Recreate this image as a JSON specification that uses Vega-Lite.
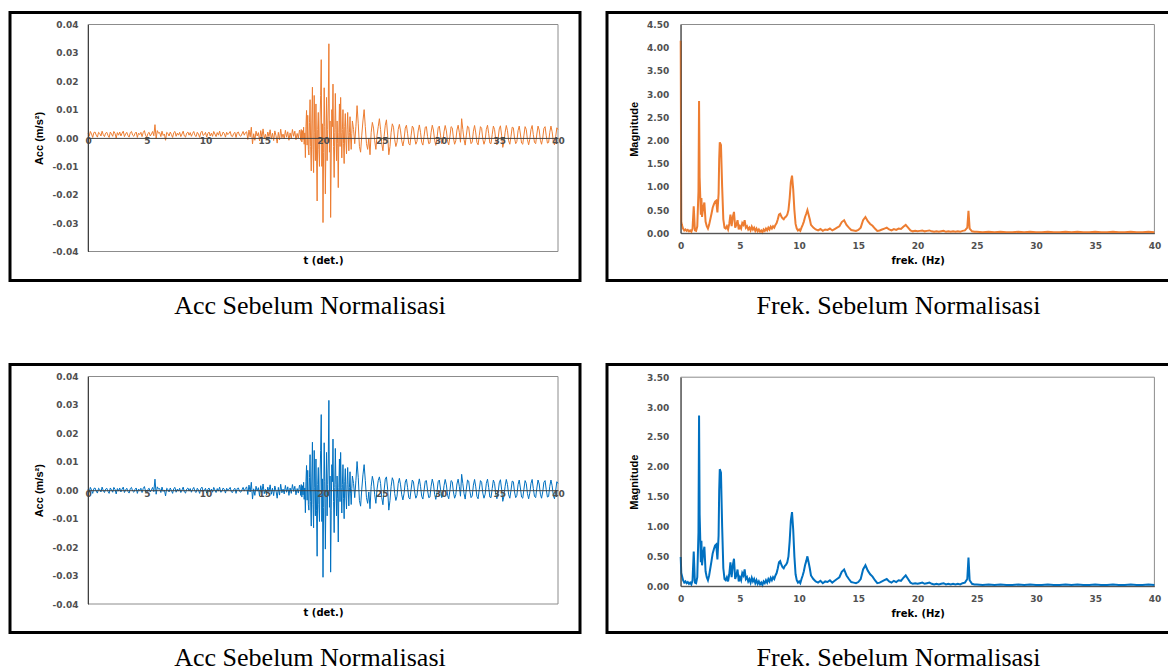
{
"$schema": "https://vega.github.io/schema/vega-lite/v6.json",
"background": "white",
"padding": {"left": 8, "top": 10.5, "right": 0, "bottom": 0},
"config": {"view": {"stroke": "black", "strokeWidth": 3}},
"datasets": {
"sig": [
{"t":0,"o":0.0017,"b":0.0004},{"t":0.1,"o":0.0006,"b":-0.0007},{"t":0.2,"o":0.0023,"b":0.0010},{"t":0.3,"o":0.0014,"b":0.0001},{"t":0.4,"o":0.0002,"b":-0.0011},{"t":0.5,"o":0.0019,"b":0.0006},{"t":0.6,"o":0.0021,"b":0.0008},{"t":0.7,"o":0.0010,"b":-0.0003},{"t":0.8,"o":0.0003,"b":-0.0010},{"t":0.9,"o":0.0020,"b":0.0007},
{"t":1.0,"o":0.0016,"b":0.0003},{"t":1.1,"o":0.0007,"b":-0.0006},{"t":1.2,"o":0.0024,"b":0.0011},{"t":1.3,"o":0.0012,"b":-0.0001},{"t":1.4,"o":0.0005,"b":-0.0008},{"t":1.5,"o":0.0017,"b":0.0004},{"t":1.6,"o":0.0020,"b":0.0007},{"t":1.7,"o":0.0009,"b":-0.0004},{"t":1.8,"o":0.0002,"b":-0.0011},{"t":1.9,"o":0.0021,"b":0.0008},
{"t":2.0,"o":0.0014,"b":0.0001},{"t":2.1,"o":0.0006,"b":-0.0007},{"t":2.2,"o":0.0023,"b":0.0010},{"t":2.3,"o":0.0016,"b":0.0003},{"t":2.4,"o":0.0000,"b":-0.0013},{"t":2.5,"o":0.0019,"b":0.0006},{"t":2.6,"o":0.0010,"b":-0.0003},{"t":2.7,"o":0.0021,"b":0.0008},{"t":2.8,"o":0.0007,"b":-0.0006},{"t":2.9,"o":0.0017,"b":0.0004},
{"t":3.0,"o":0.0024,"b":0.0011},{"t":3.1,"o":0.0005,"b":-0.0008},{"t":3.2,"o":0.0014,"b":0.0001},{"t":3.3,"o":0.0020,"b":0.0007},{"t":3.4,"o":0.0009,"b":-0.0004},{"t":3.5,"o":0.0003,"b":-0.0010},{"t":3.6,"o":0.0019,"b":0.0006},{"t":3.7,"o":0.0023,"b":0.0010},{"t":3.8,"o":0.0010,"b":-0.0003},{"t":3.9,"o":0.0006,"b":-0.0007},
{"t":4.0,"o":0.0016,"b":0.0003},{"t":4.1,"o":0.0021,"b":0.0008},{"t":4.2,"o":0.0002,"b":-0.0011},{"t":4.3,"o":0.0017,"b":0.0004},{"t":4.4,"o":0.0012,"b":-0.0001},{"t":4.5,"o":0.0020,"b":0.0007},{"t":4.6,"o":0.0005,"b":-0.0008},{"t":4.7,"o":0.0019,"b":0.0006},{"t":4.8,"o":0.0026,"b":0.0013},{"t":4.9,"o":0.0009,"b":-0.0004},
{"t":5.0,"o":0.0003,"b":-0.0010},{"t":5.1,"o":0.0016,"b":0.0003},{"t":5.2,"o":0.0020,"b":0.0007},{"t":5.3,"o":0.0007,"b":-0.0006},{"t":5.4,"o":0.0014,"b":0.0001},{"t":5.5,"o":0.0023,"b":0.0010},{"t":5.6,"o":0.0008,"b":-0.0005},{"t":5.7,"o":0.0047,"b":0.0039},{"t":5.8,"o":-0.0002,"b":-0.0014},{"t":5.9,"o":0.0026,"b":0.0012},
{"t":6.0,"o":0.0017,"b":0.0004},{"t":6.1,"o":0.0019,"b":0.0006},{"t":6.2,"o":0.0005,"b":-0.0008},{"t":6.3,"o":0.0024,"b":0.0011},{"t":6.4,"o":0.0009,"b":-0.0004},{"t":6.5,"o":0.0014,"b":0.0001},{"t":6.6,"o":-0.0008,"b":-0.0020},{"t":6.7,"o":0.0020,"b":0.0007},{"t":6.8,"o":0.0016,"b":0.0003},{"t":6.9,"o":0.0007,"b":-0.0006},
{"t":7.0,"o":0.0021,"b":0.0008},{"t":7.1,"o":0.0012,"b":-0.0001},{"t":7.2,"o":0.0002,"b":-0.0011},{"t":7.3,"o":0.0019,"b":0.0006},{"t":7.4,"o":0.0023,"b":0.0010},{"t":7.5,"o":0.0006,"b":-0.0007},{"t":7.6,"o":0.0017,"b":0.0004},{"t":7.7,"o":0.0010,"b":-0.0003},{"t":7.8,"o":0.0020,"b":0.0007},{"t":7.9,"o":0.0005,"b":-0.0008},
{"t":8.0,"o":0.0014,"b":0.0001},{"t":8.1,"o":0.0024,"b":0.0011},{"t":8.2,"o":0.0007,"b":-0.0006},{"t":8.3,"o":0.0003,"b":-0.0010},{"t":8.4,"o":0.0017,"b":0.0004},{"t":8.5,"o":0.0021,"b":0.0008},{"t":8.6,"o":0.0010,"b":-0.0003},{"t":8.7,"o":0.0019,"b":0.0006},{"t":8.8,"o":0.0006,"b":-0.0007},{"t":8.9,"o":0.0016,"b":0.0003},
{"t":9.0,"o":0.0023,"b":0.0010},{"t":9.1,"o":0.0009,"b":-0.0004},{"t":9.2,"o":0.0005,"b":-0.0008},{"t":9.3,"o":0.0020,"b":0.0007},{"t":9.4,"o":0.0014,"b":0.0001},{"t":9.5,"o":0.0002,"b":-0.0011},{"t":9.6,"o":0.0019,"b":0.0006},{"t":9.7,"o":0.0024,"b":0.0011},{"t":9.8,"o":0.0009,"b":-0.0004},{"t":9.9,"o":0.0012,"b":-0.0001},
{"t":10.0,"o":0.0020,"b":0.0007},{"t":10.1,"o":0.0003,"b":-0.0010},{"t":10.2,"o":0.0016,"b":0.0003},{"t":10.3,"o":0.0021,"b":0.0008},{"t":10.4,"o":0.0007,"b":-0.0006},{"t":10.5,"o":0.0017,"b":0.0004},{"t":10.6,"o":0.0006,"b":-0.0007},{"t":10.7,"o":0.0023,"b":0.0010},{"t":10.8,"o":0.0014,"b":0.0001},{"t":10.9,"o":0.0005,"b":-0.0008},
{"t":11.0,"o":0.0019,"b":0.0006},{"t":11.1,"o":0.0010,"b":-0.0003},{"t":11.2,"o":0.0024,"b":0.0011},{"t":11.3,"o":0.0006,"b":-0.0007},{"t":11.4,"o":0.0009,"b":-0.0004},{"t":11.5,"o":0.0021,"b":0.0008},{"t":11.6,"o":0.0016,"b":0.0003},{"t":11.7,"o":0.0003,"b":-0.0010},{"t":11.8,"o":0.0020,"b":0.0007},{"t":11.9,"o":0.0012,"b":-0.0001},
{"t":12.0,"o":0.0017,"b":0.0004},{"t":12.1,"o":0.0023,"b":0.0010},{"t":12.2,"o":0.0007,"b":-0.0006},{"t":12.3,"o":0.0005,"b":-0.0008},{"t":12.4,"o":0.0016,"b":0.0003},{"t":12.5,"o":0.0020,"b":0.0007},{"t":12.6,"o":0.0002,"b":-0.0011},{"t":12.7,"o":0.0019,"b":0.0006},{"t":12.8,"o":0.0021,"b":0.0008},{"t":12.9,"o":0.0009,"b":-0.0004},
{"t":13.0,"o":0.0006,"b":-0.0007},{"t":13.1,"o":0.0014,"b":0.0001},{"t":13.2,"o":0.0023,"b":0.0010},{"t":13.3,"o":0.0010,"b":-0.0003},{"t":13.4,"o":0.0019,"b":0.0006},
{"t":13.5,"o":0.0022,"b":0.0012},{"t":13.6,"o":-0.0005,"b":-0.0015},{"t":13.7,"o":0.0028,"b":0.0018},{"t":13.8,"o":0.0004,"b":-0.0006},{"t":13.9,"o":0.0038,"b":0.0028},{"t":14.0,"o":-0.0021,"b":-0.0031},{"t":14.1,"o":0.0015,"b":0.0005},{"t":14.2,"o":-0.0008,"b":-0.0018},{"t":14.3,"o":0.0024,"b":0.0014},{"t":14.4,"o":0.0007,"b":-0.0003},
{"t":14.5,"o":0.0019,"b":0.0009},{"t":14.6,"o":-0.0010,"b":-0.0020},{"t":14.7,"o":0.0026,"b":0.0016},{"t":14.8,"o":0.0002,"b":-0.0008},{"t":14.9,"o":0.0032,"b":0.0022},{"t":15.0,"o":-0.0002,"b":-0.0012},{"t":15.1,"o":0.0013,"b":0.0003},{"t":15.2,"o":-0.0006,"b":-0.0016},{"t":15.3,"o":0.0021,"b":0.0011},{"t":15.4,"o":0.0005,"b":-0.0005},
{"t":15.5,"o":0.0029,"b":0.0019},{"t":15.6,"o":-0.0004,"b":-0.0014},{"t":15.7,"o":0.0017,"b":0.0007},{"t":15.8,"o":-0.0009,"b":-0.0019},{"t":15.9,"o":0.0025,"b":0.0015},{"t":16.0,"o":0.0008,"b":-0.0002},{"t":16.1,"o":-0.0018,"b":-0.0028},{"t":16.2,"o":0.0020,"b":0.0010},{"t":16.3,"o":-0.0007,"b":-0.0017},{"t":16.4,"o":0.0031,"b":0.0021},
{"t":16.5,"o":0.0001,"b":-0.0009},{"t":16.6,"o":0.0014,"b":0.0004},{"t":16.7,"o":-0.0003,"b":-0.0013},{"t":16.8,"o":0.0027,"b":0.0017},{"t":16.9,"o":0.0003,"b":-0.0007},{"t":17.0,"o":0.0022,"b":0.0012},{"t":17.1,"o":-0.0008,"b":-0.0018},{"t":17.2,"o":0.0018,"b":0.0008},{"t":17.3,"o":-0.0001,"b":-0.0011},{"t":17.4,"o":0.0030,"b":0.0020},
{"t":17.5,"o":0.0006,"b":-0.0004},{"t":17.6,"o":0.0024,"b":0.0014},{"t":17.7,"o":-0.0006,"b":-0.0016},{"t":17.8,"o":0.0016,"b":0.0006},{"t":17.9,"o":0.0000,"b":-0.0010},{"t":18.0,"o":0.0028,"b":0.0018},
{"t":18.05,"o":0.0022,"b":0.0012},{"t":18.1,"o":-0.0008,"b":-0.0018},{"t":18.15,"o":0.0030,"b":0.0020},{"t":18.2,"o":-0.0014,"b":-0.0024},{"t":18.25,"o":0.0026,"b":0.0016},{"t":18.3,"o":-0.0006,"b":-0.0016},{"t":18.35,"o":0.0038,"b":0.0028},{"t":18.4,"o":-0.0022,"b":-0.0032},{"t":18.45,"o":0.0018,"b":0.0008},{"t":18.5,"o":-0.0069,"b":-0.0079},
{"t":18.55,"o":0.0040,"b":0.0030},{"t":18.6,"o":0.0097,"b":0.0087},{"t":18.65,"o":-0.0025,"b":-0.0035},{"t":18.7,"o":0.0080,"b":0.0070},{"t":18.75,"o":-0.0040,"b":-0.0050},{"t":18.8,"o":-0.0060,"b":-0.0070},{"t":18.85,"o":0.0055,"b":0.0045},{"t":18.9,"o":0.0135,"b":0.0125},{"t":18.95,"o":-0.0030,"b":-0.0040},{"t":19.0,"o":-0.0116,"b":-0.0126},
{"t":19.05,"o":0.0060,"b":0.0050},{"t":19.1,"o":0.0179,"b":0.0169},{"t":19.15,"o":-0.0040,"b":-0.0050},{"t":19.2,"o":-0.0122,"b":-0.0132},{"t":19.25,"o":0.0150,"b":0.0140},{"t":19.3,"o":0.0020,"b":0.0010},{"t":19.35,"o":-0.0080,"b":-0.0090},{"t":19.4,"o":0.0120,"b":0.0110},{"t":19.45,"o":-0.0060,"b":-0.0070},{"t":19.5,"o":-0.0222,"b":-0.0232},
{"t":19.55,"o":0.0030,"b":0.0020},{"t":19.6,"o":0.0090,"b":0.0080},{"t":19.65,"o":-0.0040,"b":-0.0050},{"t":19.7,"o":-0.0100,"b":-0.0110},{"t":19.75,"o":0.0060,"b":0.0050},{"t":19.8,"o":0.0150,"b":0.0140},{"t":19.85,"o":0.0276,"b":0.0266},{"t":19.9,"o":-0.0100,"b":-0.0110},{"t":19.95,"o":0.0050,"b":0.0040},{"t":20.0,"o":-0.0298,"b":-0.0306},
{"t":20.05,"o":-0.0050,"b":-0.0060},{"t":20.1,"o":0.0177,"b":0.0167},{"t":20.15,"o":0.0040,"b":0.0030},{"t":20.2,"o":-0.0197,"b":-0.0207},{"t":20.25,"o":-0.0020,"b":-0.0030},{"t":20.3,"o":0.0143,"b":0.0133},{"t":20.35,"o":-0.0080,"b":-0.0090},{"t":20.4,"o":0.0030,"b":0.0020},{"t":20.45,"o":0.0120,"b":0.0110},{"t":20.5,"o":0.0332,"b":0.0316},
{"t":20.55,"o":-0.0050,"b":-0.0060},{"t":20.6,"o":0.0060,"b":0.0050},{"t":20.65,"o":-0.0280,"b":-0.0288},{"t":20.7,"o":-0.0060,"b":-0.0070},{"t":20.75,"o":0.0100,"b":0.0090},{"t":20.8,"o":0.0040,"b":0.0030},{"t":20.85,"o":0.0190,"b":0.0180},{"t":20.9,"o":-0.0030,"b":-0.0040},{"t":20.95,"o":-0.0139,"b":-0.0149},{"t":21.0,"o":0.0020,"b":0.0010},
{"t":21.05,"o":0.0157,"b":0.0147},{"t":21.1,"o":0.0030,"b":0.0020},{"t":21.15,"o":-0.0080,"b":-0.0090},{"t":21.2,"o":0.0060,"b":0.0050},{"t":21.25,"o":-0.0020,"b":-0.0030},{"t":21.3,"o":-0.0175,"b":-0.0182},{"t":21.35,"o":0.0020,"b":0.0010},{"t":21.4,"o":0.0120,"b":0.0110},{"t":21.45,"o":-0.0030,"b":-0.0040},{"t":21.5,"o":0.0143,"b":0.0133},
{"t":21.55,"o":0.0020,"b":0.0010},{"t":21.6,"o":-0.0070,"b":-0.0080},{"t":21.65,"o":0.0030,"b":0.0020},{"t":21.7,"o":0.0100,"b":0.0090},{"t":21.75,"o":-0.0020,"b":-0.0030},{"t":21.8,"o":-0.0090,"b":-0.0100},{"t":21.85,"o":0.0040,"b":0.0030},{"t":21.9,"o":0.0086,"b":0.0076},{"t":21.95,"o":-0.0010,"b":-0.0020},{"t":22.0,"o":-0.0056,"b":-0.0066},
{"t":22.05,"o":0.0030,"b":0.0020},{"t":22.1,"o":0.0090,"b":0.0080},{"t":22.15,"o":0.0010,"b":0.0000},{"t":22.2,"o":-0.0045,"b":-0.0055},{"t":22.25,"o":0.0020,"b":0.0010},{"t":22.3,"o":0.0075,"b":0.0065},{"t":22.35,"o":0.0000,"b":-0.0010},{"t":22.4,"o":-0.0040,"b":-0.0050},{"t":22.45,"o":0.0015,"b":0.0005},{"t":22.5,"o":0.0060,"b":0.0050},
{"t":22.6,"o":0.0030,"b":0.0024},{"t":22.7,"o":-0.0020,"b":-0.0026},{"t":22.8,"o":0.0040,"b":0.0034},{"t":22.9,"o":0.0114,"b":0.0101},{"t":23.0,"o":0.0050,"b":0.0044},{"t":23.1,"o":-0.0030,"b":-0.0036},{"t":23.2,"o":-0.0050,"b":-0.0056},{"t":23.3,"o":0.0010,"b":0.0004},{"t":23.4,"o":0.0060,"b":0.0054},{"t":23.5,"o":0.0100,"b":0.0090},
{"t":23.6,"o":0.0040,"b":0.0034},{"t":23.7,"o":-0.0020,"b":-0.0026},{"t":23.8,"o":-0.0040,"b":-0.0046},{"t":23.9,"o":0.0000,"b":-0.0006},{"t":24.0,"o":-0.0059,"b":-0.0065},{"t":24.1,"o":0.0020,"b":0.0014},{"t":24.2,"o":0.0055,"b":0.0049},{"t":24.3,"o":0.0035,"b":0.0029},{"t":24.4,"o":-0.0010,"b":-0.0016},{"t":24.5,"o":-0.0040,"b":-0.0046},
{"t":24.6,"o":0.0010,"b":0.0004},{"t":24.7,"o":0.0040,"b":0.0034},{"t":24.8,"o":0.0068,"b":0.0047},{"t":24.9,"o":0.0030,"b":0.0024},{"t":25.0,"o":-0.0020,"b":-0.0026},{"t":25.1,"o":-0.0045,"b":-0.0051},{"t":25.2,"o":0.0005,"b":-0.0001},{"t":25.3,"o":0.0045,"b":0.0039},{"t":25.4,"o":0.0064,"b":0.0047},{"t":25.5,"o":0.0010,"b":0.0004},
{"t":25.6,"o":-0.0059,"b":-0.0070},{"t":25.7,"o":-0.0030,"b":-0.0036},{"t":25.8,"o":0.0020,"b":0.0014},{"t":25.9,"o":0.0050,"b":0.0044},{"t":26.0,"o":0.0038,"b":0.0032},{"t":26.1,"o":-0.0005,"b":-0.0011},{"t":26.2,"o":-0.0030,"b":-0.0036},{"t":26.3,"o":-0.0015,"b":-0.0021},{"t":26.4,"o":0.0030,"b":0.0024},{"t":26.5,"o":0.0048,"b":0.0042},
{"t":26.6,"o":0.0025,"b":0.0019},{"t":26.7,"o":-0.0010,"b":-0.0016},{"t":26.8,"o":-0.0028,"b":-0.0034},{"t":26.9,"o":-0.0005,"b":-0.0011},{"t":27.0,"o":0.0035,"b":0.0029},{"t":27.1,"o":0.0045,"b":0.0039},{"t":27.2,"o":0.0015,"b":0.0009},{"t":27.3,"o":-0.0020,"b":-0.0026},{"t":27.4,"o":-0.0025,"b":-0.0031},{"t":27.5,"o":0.0010,"b":0.0004},
{"t":27.6,"o":0.0042,"b":0.0036},{"t":27.7,"o":0.0035,"b":0.0029},{"t":27.8,"o":0.0000,"b":-0.0006},{"t":27.9,"o":-0.0022,"b":-0.0028},{"t":28.0,"o":-0.0012,"b":-0.0018},{"t":28.1,"o":0.0025,"b":0.0019},{"t":28.2,"o":0.0046,"b":0.0040},{"t":28.3,"o":0.0020,"b":0.0014},{"t":28.4,"o":-0.0015,"b":-0.0021},{"t":28.5,"o":-0.0025,"b":-0.0031},
{"t":28.6,"o":0.0005,"b":-0.0001},{"t":28.7,"o":0.0038,"b":0.0032},{"t":28.8,"o":0.0040,"b":0.0034},{"t":28.9,"o":0.0005,"b":-0.0001},{"t":29.0,"o":-0.0020,"b":-0.0026},{"t":29.1,"o":-0.0018,"b":-0.0024},{"t":29.2,"o":0.0020,"b":0.0014},{"t":29.3,"o":0.0045,"b":0.0039},{"t":29.4,"o":0.0028,"b":0.0022},{"t":29.5,"o":-0.0008,"b":-0.0014},
{"t":29.6,"o":-0.0026,"b":-0.0032},{"t":29.7,"o":-0.0002,"b":-0.0008},{"t":29.8,"o":0.0036,"b":0.0030},{"t":29.9,"o":0.0042,"b":0.0036},{"t":30.0,"o":0.0010,"b":0.0004},{"t":30.1,"o":-0.0020,"b":-0.0026},{"t":30.2,"o":-0.0015,"b":-0.0021},{"t":30.3,"o":0.0022,"b":0.0016},{"t":30.4,"o":0.0044,"b":0.0038},{"t":30.5,"o":0.0025,"b":0.0019},
{"t":30.6,"o":-0.0012,"b":-0.0018},{"t":30.7,"o":-0.0024,"b":-0.0030},{"t":30.8,"o":0.0004,"b":-0.0002},{"t":30.9,"o":0.0040,"b":0.0034},{"t":31.0,"o":0.0036,"b":0.0030},{"t":31.1,"o":0.0000,"b":-0.0006},{"t":31.2,"o":-0.0022,"b":-0.0028},{"t":31.3,"o":-0.0010,"b":-0.0016},{"t":31.4,"o":0.0028,"b":0.0022},{"t":31.5,"o":0.0045,"b":0.0039},
{"t":31.6,"o":0.0020,"b":0.0014},{"t":31.7,"o":-0.0015,"b":-0.0021},{"t":31.8,"o":0.0068,"b":0.0056},{"t":31.9,"o":0.0030,"b":0.0024},{"t":32.0,"o":-0.0005,"b":-0.0011},{"t":32.1,"o":-0.0025,"b":-0.0031},{"t":32.2,"o":0.0010,"b":0.0004},{"t":32.3,"o":0.0042,"b":0.0036},{"t":32.4,"o":0.0038,"b":0.0032},{"t":32.5,"o":0.0002,"b":-0.0004},
{"t":32.6,"o":-0.0020,"b":-0.0026},{"t":32.7,"o":-0.0014,"b":-0.0020},{"t":32.8,"o":0.0024,"b":0.0018},{"t":32.9,"o":0.0044,"b":0.0038},{"t":33.0,"o":0.0018,"b":0.0012},{"t":33.1,"o":-0.0016,"b":-0.0022},{"t":33.2,"o":-0.0024,"b":-0.0030},{"t":33.3,"o":0.0008,"b":0.0002},{"t":33.4,"o":0.0040,"b":0.0034},{"t":33.5,"o":0.0034,"b":0.0028},
{"t":33.6,"o":-0.0004,"b":-0.0010},{"t":33.7,"o":-0.0022,"b":-0.0028},{"t":33.8,"o":-0.0008,"b":-0.0014},{"t":33.9,"o":0.0030,"b":0.0024},{"t":34.0,"o":0.0045,"b":0.0039},{"t":34.1,"o":0.0016,"b":0.0010},{"t":34.2,"o":-0.0018,"b":-0.0024},{"t":34.3,"o":-0.0020,"b":-0.0026},{"t":34.4,"o":0.0012,"b":0.0006},{"t":34.5,"o":0.0042,"b":0.0036},
{"t":34.6,"o":0.0030,"b":0.0024},{"t":34.7,"o":-0.0006,"b":-0.0012},{"t":34.8,"o":-0.0024,"b":-0.0030},{"t":34.9,"o":-0.0004,"b":-0.0010},{"t":35.0,"o":0.0032,"b":0.0026},{"t":35.1,"o":0.0043,"b":0.0037},{"t":35.2,"o":0.0010,"b":0.0004},{"t":35.3,"o":-0.0033,"b":-0.0039},{"t":35.4,"o":-0.0015,"b":-0.0021},{"t":35.5,"o":0.0020,"b":0.0014},
{"t":35.6,"o":0.0044,"b":0.0038},{"t":35.7,"o":0.0026,"b":0.0020},{"t":35.8,"o":-0.0010,"b":-0.0016},{"t":35.9,"o":-0.0022,"b":-0.0028},{"t":36.0,"o":0.0006,"b":0.0000},{"t":36.1,"o":0.0038,"b":0.0032},{"t":36.2,"o":0.0036,"b":0.0030},{"t":36.3,"o":0.0000,"b":-0.0006},{"t":36.4,"o":-0.0020,"b":-0.0026},{"t":36.5,"o":-0.0012,"b":-0.0018},
{"t":36.6,"o":0.0026,"b":0.0020},{"t":36.7,"o":0.0042,"b":0.0036},{"t":36.8,"o":0.0014,"b":0.0008},{"t":36.9,"o":-0.0018,"b":-0.0024},{"t":37.0,"o":-0.0022,"b":-0.0028},{"t":37.1,"o":0.0010,"b":0.0004},{"t":37.2,"o":0.0040,"b":0.0034},{"t":37.3,"o":0.0030,"b":0.0024},{"t":37.4,"o":-0.0006,"b":-0.0012},{"t":37.5,"o":-0.0024,"b":-0.0030},
{"t":37.6,"o":-0.0004,"b":-0.0010},{"t":37.7,"o":0.0030,"b":0.0024},{"t":37.8,"o":0.0044,"b":0.0038},{"t":37.9,"o":0.0012,"b":0.0006},{"t":38.0,"o":-0.0016,"b":-0.0022},{"t":38.1,"o":-0.0020,"b":-0.0026},{"t":38.2,"o":0.0014,"b":0.0008},{"t":38.3,"o":0.0042,"b":0.0036},{"t":38.4,"o":0.0028,"b":0.0022},{"t":38.5,"o":-0.0008,"b":-0.0014},
{"t":38.6,"o":-0.0022,"b":-0.0028},{"t":38.7,"o":0.0000,"b":-0.0006},{"t":38.8,"o":0.0034,"b":0.0028},{"t":38.9,"o":0.0040,"b":0.0034},{"t":39.0,"o":0.0008,"b":0.0002},{"t":39.1,"o":-0.0018,"b":-0.0024},{"t":39.2,"o":-0.0016,"b":-0.0022},{"t":39.3,"o":0.0020,"b":0.0014},{"t":39.4,"o":0.0042,"b":0.0036},{"t":39.5,"o":0.0022,"b":0.0016},
{"t":39.6,"o":-0.0012,"b":-0.0018},{"t":39.7,"o":-0.0024,"b":-0.0030},{"t":39.8,"o":0.0004,"b":-0.0002},{"t":39.9,"o":0.0036,"b":0.0030},{"t":40.0,"o":0.0030,"b":0.0024}
],
"fft": [
{"f":0,"o":4.15,"b":0.49},{"f":0.05,"o":0.25,"b":0.22},{"f":0.1,"o":0.18,"b":0.18},{"f":0.2,"o":0.10,"b":0.10},{"f":0.3,"o":0.06,"b":0.06},{"f":0.4,"o":0.08,"b":0.08},{"f":0.5,"o":0.05,"b":0.05},{"f":0.6,"o":0.07,"b":0.07},{"f":0.7,"o":0.04,"b":0.04},{"f":0.8,"o":0.06,"b":0.06},{"f":0.9,"o":0.03,"b":0.03},
{"f":1.0,"o":0.10,"b":0.10},{"f":1.1,"o":0.58,"b":0.58},{"f":1.2,"o":0.06,"b":0.06},{"f":1.3,"o":0.05,"b":0.05},{"f":1.4,"o":0.15,"b":0.15},{"f":1.5,"o":0.90,"b":0.90},{"f":1.55,"o":2.85,"b":2.86},{"f":1.6,"o":1.20,"b":1.20},{"f":1.7,"o":0.40,"b":0.40},{"f":1.75,"o":0.76,"b":0.76},{"f":1.8,"o":0.35,"b":0.35},{"f":1.9,"o":0.55,"b":0.55},
{"f":2.0,"o":0.66,"b":0.66},{"f":2.1,"o":0.25,"b":0.25},{"f":2.2,"o":0.15,"b":0.15},{"f":2.3,"o":0.10,"b":0.10},{"f":2.4,"o":0.18,"b":0.18},{"f":2.5,"o":0.30,"b":0.30},{"f":2.6,"o":0.42,"b":0.42},{"f":2.7,"o":0.55,"b":0.55},{"f":2.8,"o":0.62,"b":0.62},{"f":2.9,"o":0.68,"b":0.68},
{"f":3.0,"o":0.70,"b":0.70},{"f":3.1,"o":0.45,"b":0.45},{"f":3.2,"o":0.85,"b":0.85},{"f":3.25,"o":1.60,"b":1.60},{"f":3.3,"o":1.96,"b":1.96},{"f":3.4,"o":1.90,"b":1.90},{"f":3.5,"o":1.00,"b":1.00},{"f":3.6,"o":0.30,"b":0.30},{"f":3.7,"o":0.12,"b":0.12},{"f":3.8,"o":0.10,"b":0.10},{"f":3.9,"o":0.15,"b":0.15},
{"f":4.0,"o":0.08,"b":0.08},{"f":4.1,"o":0.20,"b":0.20},{"f":4.2,"o":0.40,"b":0.40},{"f":4.3,"o":0.15,"b":0.15},{"f":4.4,"o":0.35,"b":0.35},{"f":4.5,"o":0.46,"b":0.46},{"f":4.6,"o":0.12,"b":0.12},{"f":4.7,"o":0.18,"b":0.18},{"f":4.8,"o":0.28,"b":0.28},{"f":4.9,"o":0.08,"b":0.08},
{"f":5.0,"o":0.15,"b":0.15},{"f":5.1,"o":0.10,"b":0.10},{"f":5.2,"o":0.22,"b":0.22},{"f":5.3,"o":0.18,"b":0.18},{"f":5.4,"o":0.28,"b":0.28},{"f":5.5,"o":0.12,"b":0.12},{"f":5.6,"o":0.15,"b":0.15},{"f":5.7,"o":0.08,"b":0.08},{"f":5.8,"o":0.12,"b":0.12},{"f":5.9,"o":0.06,"b":0.06},
{"f":6.0,"o":0.14,"b":0.14},{"f":6.1,"o":0.08,"b":0.08},{"f":6.2,"o":0.12,"b":0.12},{"f":6.3,"o":0.05,"b":0.05},{"f":6.4,"o":0.10,"b":0.10},{"f":6.5,"o":0.04,"b":0.04},{"f":6.6,"o":0.08,"b":0.08},{"f":6.7,"o":0.03,"b":0.03},{"f":6.8,"o":0.06,"b":0.06},{"f":6.9,"o":0.02,"b":0.02},
{"f":7.0,"o":0.08,"b":0.08},{"f":7.1,"o":0.05,"b":0.05},{"f":7.2,"o":0.10,"b":0.10},{"f":7.3,"o":0.06,"b":0.06},{"f":7.4,"o":0.12,"b":0.12},{"f":7.5,"o":0.08,"b":0.08},{"f":7.6,"o":0.14,"b":0.14},{"f":7.7,"o":0.10,"b":0.10},{"f":7.8,"o":0.15,"b":0.15},{"f":7.9,"o":0.12,"b":0.12},
{"f":8.0,"o":0.18,"b":0.18},{"f":8.1,"o":0.22,"b":0.22},{"f":8.2,"o":0.30,"b":0.30},{"f":8.3,"o":0.40,"b":0.40},{"f":8.4,"o":0.42,"b":0.42},{"f":8.5,"o":0.36,"b":0.36},{"f":8.6,"o":0.32,"b":0.32},{"f":8.7,"o":0.30,"b":0.30},{"f":8.8,"o":0.34,"b":0.34},{"f":8.9,"o":0.36,"b":0.36},
{"f":9.0,"o":0.40,"b":0.40},{"f":9.1,"o":0.50,"b":0.50},{"f":9.2,"o":0.75,"b":0.75},{"f":9.3,"o":1.10,"b":1.10},{"f":9.4,"o":1.24,"b":1.24},{"f":9.5,"o":0.95,"b":0.95},{"f":9.6,"o":0.50,"b":0.50},{"f":9.7,"o":0.20,"b":0.20},{"f":9.8,"o":0.10,"b":0.10},{"f":9.9,"o":0.06,"b":0.06},
{"f":10.0,"o":0.08,"b":0.08},{"f":10.1,"o":0.05,"b":0.05},{"f":10.2,"o":0.12,"b":0.12},{"f":10.3,"o":0.18,"b":0.18},{"f":10.4,"o":0.25,"b":0.25},{"f":10.5,"o":0.35,"b":0.35},{"f":10.6,"o":0.42,"b":0.42},{"f":10.7,"o":0.50,"b":0.50},{"f":10.8,"o":0.40,"b":0.40},{"f":10.9,"o":0.30,"b":0.30},
{"f":11.0,"o":0.18,"b":0.18},{"f":11.2,"o":0.12,"b":0.12},{"f":11.4,"o":0.08,"b":0.08},{"f":11.6,"o":0.06,"b":0.06},{"f":11.8,"o":0.09,"b":0.09},{"f":12.0,"o":0.05,"b":0.05},{"f":12.2,"o":0.08,"b":0.08},{"f":12.4,"o":0.07,"b":0.07},{"f":12.6,"o":0.10,"b":0.10},{"f":12.8,"o":0.06,"b":0.06},
{"f":13.0,"o":0.09,"b":0.09},{"f":13.2,"o":0.12,"b":0.12},{"f":13.4,"o":0.15,"b":0.15},{"f":13.6,"o":0.24,"b":0.24},{"f":13.8,"o":0.28,"b":0.28},{"f":14.0,"o":0.18,"b":0.18},{"f":14.2,"o":0.12,"b":0.12},{"f":14.4,"o":0.07,"b":0.07},{"f":14.6,"o":0.06,"b":0.06},{"f":14.8,"o":0.05,"b":0.05},
{"f":15.0,"o":0.07,"b":0.07},{"f":15.2,"o":0.12,"b":0.12},{"f":15.4,"o":0.28,"b":0.28},{"f":15.6,"o":0.35,"b":0.35},{"f":15.8,"o":0.26,"b":0.26},{"f":16.0,"o":0.20,"b":0.20},{"f":16.2,"o":0.16,"b":0.16},{"f":16.4,"o":0.10,"b":0.10},{"f":16.6,"o":0.05,"b":0.05},{"f":16.8,"o":0.06,"b":0.06},
{"f":17.0,"o":0.08,"b":0.08},{"f":17.2,"o":0.10,"b":0.10},{"f":17.4,"o":0.12,"b":0.12},{"f":17.6,"o":0.08,"b":0.08},{"f":17.8,"o":0.06,"b":0.06},{"f":18.0,"o":0.09,"b":0.09},{"f":18.2,"o":0.07,"b":0.07},{"f":18.4,"o":0.10,"b":0.10},{"f":18.6,"o":0.09,"b":0.09},{"f":18.8,"o":0.14,"b":0.14},
{"f":19.0,"o":0.18,"b":0.18},{"f":19.2,"o":0.12,"b":0.12},{"f":19.4,"o":0.06,"b":0.06},{"f":19.6,"o":0.04,"b":0.04},{"f":19.8,"o":0.05,"b":0.05},{"f":20.0,"o":0.04,"b":0.04},{"f":20.2,"o":0.05,"b":0.05},{"f":20.4,"o":0.06,"b":0.06},{"f":20.6,"o":0.04,"b":0.04},{"f":20.8,"o":0.05,"b":0.05},
{"f":21.0,"o":0.06,"b":0.06},{"f":21.2,"o":0.04,"b":0.04},{"f":21.4,"o":0.03,"b":0.03},{"f":21.6,"o":0.04,"b":0.04},{"f":21.8,"o":0.03,"b":0.03},{"f":22.0,"o":0.04,"b":0.04},{"f":22.2,"o":0.05,"b":0.05},{"f":22.4,"o":0.03,"b":0.03},{"f":22.6,"o":0.04,"b":0.04},{"f":22.8,"o":0.03,"b":0.03},
{"f":23.0,"o":0.04,"b":0.04},{"f":23.2,"o":0.03,"b":0.03},{"f":23.4,"o":0.04,"b":0.04},{"f":23.6,"o":0.03,"b":0.03},{"f":23.8,"o":0.05,"b":0.05},{"f":24.0,"o":0.06,"b":0.06},{"f":24.2,"o":0.12,"b":0.12},{"f":24.3,"o":0.48,"b":0.48},{"f":24.4,"o":0.10,"b":0.10},{"f":24.6,"o":0.04,"b":0.04},{"f":24.8,"o":0.03,"b":0.03},
{"f":25.0,"o":0.03,"b":0.03},{"f":25.5,"o":0.02,"b":0.02},{"f":26.0,"o":0.03,"b":0.03},{"f":26.5,"o":0.02,"b":0.02},{"f":27.0,"o":0.03,"b":0.03},{"f":27.5,"o":0.02,"b":0.02},{"f":28.0,"o":0.02,"b":0.02},{"f":28.5,"o":0.03,"b":0.03},{"f":29.0,"o":0.02,"b":0.02},{"f":29.5,"o":0.03,"b":0.03},
{"f":30.0,"o":0.02,"b":0.02},{"f":30.5,"o":0.02,"b":0.02},{"f":31.0,"o":0.03,"b":0.03},{"f":31.5,"o":0.02,"b":0.02},{"f":32.0,"o":0.02,"b":0.02},{"f":32.5,"o":0.03,"b":0.03},{"f":33.0,"o":0.02,"b":0.02},{"f":33.5,"o":0.03,"b":0.03},{"f":34.0,"o":0.02,"b":0.02},{"f":34.5,"o":0.02,"b":0.02},
{"f":35.0,"o":0.03,"b":0.03},{"f":35.5,"o":0.02,"b":0.02},{"f":36.0,"o":0.02,"b":0.02},{"f":36.5,"o":0.03,"b":0.03},{"f":37.0,"o":0.02,"b":0.02},{"f":37.5,"o":0.02,"b":0.02},{"f":38.0,"o":0.03,"b":0.03},{"f":38.5,"o":0.02,"b":0.02},{"f":39.0,"o":0.02,"b":0.02},{"f":39.5,"o":0.03,"b":0.03},{"f":40.0,"o":0.02,"b":0.02}
]
},
"spacing": 42,
"vconcat": [
{"spacing": 23, "hconcat": [
 {"width": 570, "height": 268,
  "title": {"text": "Acc Sebelum Normalisasi", "orient": "bottom", "anchor": "middle", "font": "Liberation Serif", "fontSize": 26, "fontWeight": "normal", "color": "black", "baseline": "alphabetic", "offset": 33, "dx": 15},
  "encoding": {
   "x": {"field": "t", "type": "quantitative", "scale": {"domain": [0, 40], "range": [78, 548], "nice": false, "zero": false},
     "axis": {"title": "t (det.)", "orient": "bottom", "offset": -142.6, "values": [0,5,10,15,20,25,30,35,40], "format": "d", "ticks": false, "grid": false, "labelFlush": false, "labelOverlap": false, "labelPadding": -1, "labelFont": "DejaVu Sans", "labelFontSize": 9, "labelFontWeight": "bold", "labelColor": "#505050", "domainColor": "#404040", "domainWidth": 1, "titleFont": "DejaVu Sans", "titleFontSize": 10, "titleFontWeight": "bold", "titleColor": "black", "titleY": 122.6, "titleBaseline": "middle", "zindex": 1}},
   "y": {"field": "o", "type": "quantitative", "scale": {"domain": [-0.04, 0.04], "range": [239, 12], "nice": false, "zero": false},
     "axis": {"title": "Acc (m/s²)", "orient": "left", "offset": -78, "values": [-0.04,-0.03,-0.02,-0.01,0,0.01,0.02,0.03,0.04], "labelExpr": "replace(format(datum.value, '.2f'), '−', '-')", "ticks": false, "grid": false, "labelFlush": false, "labelOverlap": false, "labelPadding": 10, "labelFont": "DejaVu Sans", "labelFontSize": 9, "labelFontWeight": "bold", "labelColor": "#505050", "domainColor": "#404040", "domainWidth": 1, "titleFont": "Liberation Sans", "titleFontSize": 11, "titleFontWeight": "bold", "titleColor": "black", "titleX": -48.5, "titleBaseline": "middle", "titleAngle": -90, "zindex": 1}}
  },
  "layer": [
   {"data": {"values": [{"t": 0, "t2": 40, "o": -0.04, "o2": 0.04}]}, "mark": {"type": "rect", "fill": "white", "fillOpacity": 0, "stroke": "#8c8c8c", "strokeWidth": 1}, "encoding": {"x2": {"field": "t2"}, "y2": {"field": "o2"}}},
   {"data": {"name": "sig"}, "mark": {"type": "line", "color": "#ED7D31", "strokeWidth": 1}, "encoding": {}}
  ]
 },
 {"width": 570, "height": 268,
  "title": {"text": "Frek. Sebelum Normalisasi", "orient": "bottom", "anchor": "middle", "font": "Liberation Serif", "fontSize": 26, "fontWeight": "normal", "color": "black", "baseline": "alphabetic", "offset": 33, "dx": 6.5},
  "encoding": {
   "x": {"field": "f", "type": "quantitative", "scale": {"domain": [0, 40], "range": [73.7, 547.4], "nice": false, "zero": false},
     "axis": {"title": "frek. (Hz)", "orient": "bottom", "offset": -47.3, "values": [0,5,10,15,20,25,30,35,40], "format": "d", "ticks": false, "grid": false, "labelFlush": false, "labelOverlap": false, "labelPadding": 8.5, "labelFont": "DejaVu Sans", "labelFontSize": 9, "labelFontWeight": "bold", "labelColor": "#505050", "domainColor": "#404040", "domainWidth": 1, "titleFont": "DejaVu Sans", "titleFontSize": 10, "titleFontWeight": "bold", "titleColor": "black", "titleY": 27.3, "titleBaseline": "middle", "zindex": 1}},
   "y": {"field": "o", "type": "quantitative", "scale": {"domain": [0, 4.5], "range": [220.7, 12], "nice": false, "zero": false},
     "axis": {"title": "Magnitude", "orient": "left", "offset": -73.7, "values": [0,0.5,1,1.5,2,2.5,3,3.5,4,4.5], "format": ".2f", "ticks": false, "grid": false, "labelFlush": false, "labelOverlap": false, "labelPadding": 12, "labelFont": "DejaVu Sans", "labelFontSize": 9, "labelFontWeight": "bold", "labelColor": "#505050", "domainColor": "#404040", "domainWidth": 1, "titleFont": "Liberation Sans", "titleFontSize": 11, "titleFontWeight": "bold", "titleColor": "black", "titleX": -46, "titleBaseline": "middle", "titleAngle": -90, "zindex": 1}}
  },
  "layer": [
   {"data": {"values": [{"f": 0, "f2": 40, "o": 0, "o2": 4.5}]}, "mark": {"type": "rect", "fill": "white", "fillOpacity": 0, "stroke": "#8c8c8c", "strokeWidth": 1}, "encoding": {"x2": {"field": "f2"}, "y2": {"field": "o2"}}},
   {"data": {"name": "fft"}, "mark": {"type": "line", "color": "#ED7D31", "strokeWidth": 2}, "encoding": {}}
  ]
 }
]},
{"spacing": 23, "hconcat": [
 {"width": 570, "height": 268,
  "title": {"text": "Acc Sebelum Normalisasi", "orient": "bottom", "anchor": "middle", "font": "Liberation Serif", "fontSize": 26, "fontWeight": "normal", "color": "black", "baseline": "alphabetic", "offset": 33, "dx": 15},
  "encoding": {
   "x": {"field": "t", "type": "quantitative", "scale": {"domain": [0, 40], "range": [78, 548], "nice": false, "zero": false},
     "axis": {"title": "t (det.)", "orient": "bottom", "offset": -142.3, "values": [0,5,10,15,20,25,30,35,40], "format": "d", "ticks": false, "grid": false, "labelFlush": false, "labelOverlap": false, "labelPadding": -1, "labelFont": "DejaVu Sans", "labelFontSize": 9, "labelFontWeight": "bold", "labelColor": "#505050", "domainColor": "#404040", "domainWidth": 1, "titleFont": "DejaVu Sans", "titleFontSize": 10, "titleFontWeight": "bold", "titleColor": "black", "titleY": 122.3, "titleBaseline": "middle", "zindex": 1}},
   "y": {"field": "b", "type": "quantitative", "scale": {"domain": [-0.04, 0.04], "range": [239.5, 12], "nice": false, "zero": false},
     "axis": {"title": "Acc (m/s²)", "orient": "left", "offset": -78, "values": [-0.04,-0.03,-0.02,-0.01,0,0.01,0.02,0.03,0.04], "labelExpr": "replace(format(datum.value, '.2f'), '−', '-')", "ticks": false, "grid": false, "labelFlush": false, "labelOverlap": false, "labelPadding": 10, "labelFont": "DejaVu Sans", "labelFontSize": 9, "labelFontWeight": "bold", "labelColor": "#505050", "domainColor": "#404040", "domainWidth": 1, "titleFont": "Liberation Sans", "titleFontSize": 11, "titleFontWeight": "bold", "titleColor": "black", "titleX": -48.5, "titleBaseline": "middle", "titleAngle": -90, "zindex": 1}}
  },
  "layer": [
   {"data": {"values": [{"t": 0, "t2": 40, "b": -0.04, "b2": 0.04}]}, "mark": {"type": "rect", "fill": "white", "fillOpacity": 0, "stroke": "#8c8c8c", "strokeWidth": 1}, "encoding": {"x2": {"field": "t2"}, "y2": {"field": "b2"}}},
   {"data": {"name": "sig"}, "mark": {"type": "line", "color": "#0070C0", "strokeWidth": 1}, "encoding": {}}
  ]
 },
 {"width": 570, "height": 268,
  "title": {"text": "Frek. Sebelum Normalisasi", "orient": "bottom", "anchor": "middle", "font": "Liberation Serif", "fontSize": 26, "fontWeight": "normal", "color": "black", "baseline": "alphabetic", "offset": 33, "dx": 6.5},
  "encoding": {
   "x": {"field": "f", "type": "quantitative", "scale": {"domain": [0, 40], "range": [73.7, 547.4], "nice": false, "zero": false},
     "axis": {"title": "frek. (Hz)", "orient": "bottom", "offset": -46.3, "values": [0,5,10,15,20,25,30,35,40], "format": "d", "ticks": false, "grid": false, "labelFlush": false, "labelOverlap": false, "labelPadding": 8.5, "labelFont": "DejaVu Sans", "labelFontSize": 9, "labelFontWeight": "bold", "labelColor": "#505050", "domainColor": "#404040", "domainWidth": 1, "titleFont": "DejaVu Sans", "titleFontSize": 10, "titleFontWeight": "bold", "titleColor": "black", "titleY": 26.8, "titleBaseline": "middle", "zindex": 1}},
   "y": {"field": "b", "type": "quantitative", "scale": {"domain": [0, 3.5], "range": [221.7, 12.7], "nice": false, "zero": false},
     "axis": {"title": "Magnitude", "orient": "left", "offset": -73.7, "values": [0,0.5,1,1.5,2,2.5,3,3.5], "format": ".2f", "ticks": false, "grid": false, "labelFlush": false, "labelOverlap": false, "labelPadding": 12, "labelFont": "DejaVu Sans", "labelFontSize": 9, "labelFontWeight": "bold", "labelColor": "#505050", "domainColor": "#404040", "domainWidth": 1, "titleFont": "Liberation Sans", "titleFontSize": 11, "titleFontWeight": "bold", "titleColor": "black", "titleX": -46, "titleBaseline": "middle", "titleAngle": -90, "zindex": 1}}
  },
  "layer": [
   {"data": {"values": [{"f": 0, "f2": 40, "b": 0, "b2": 3.5}]}, "mark": {"type": "rect", "fill": "white", "fillOpacity": 0, "stroke": "#8c8c8c", "strokeWidth": 1}, "encoding": {"x2": {"field": "f2"}, "y2": {"field": "b2"}}},
   {"data": {"name": "fft"}, "mark": {"type": "line", "color": "#0070C0", "strokeWidth": 2}, "encoding": {}}
  ]
 }
]}
]
}
